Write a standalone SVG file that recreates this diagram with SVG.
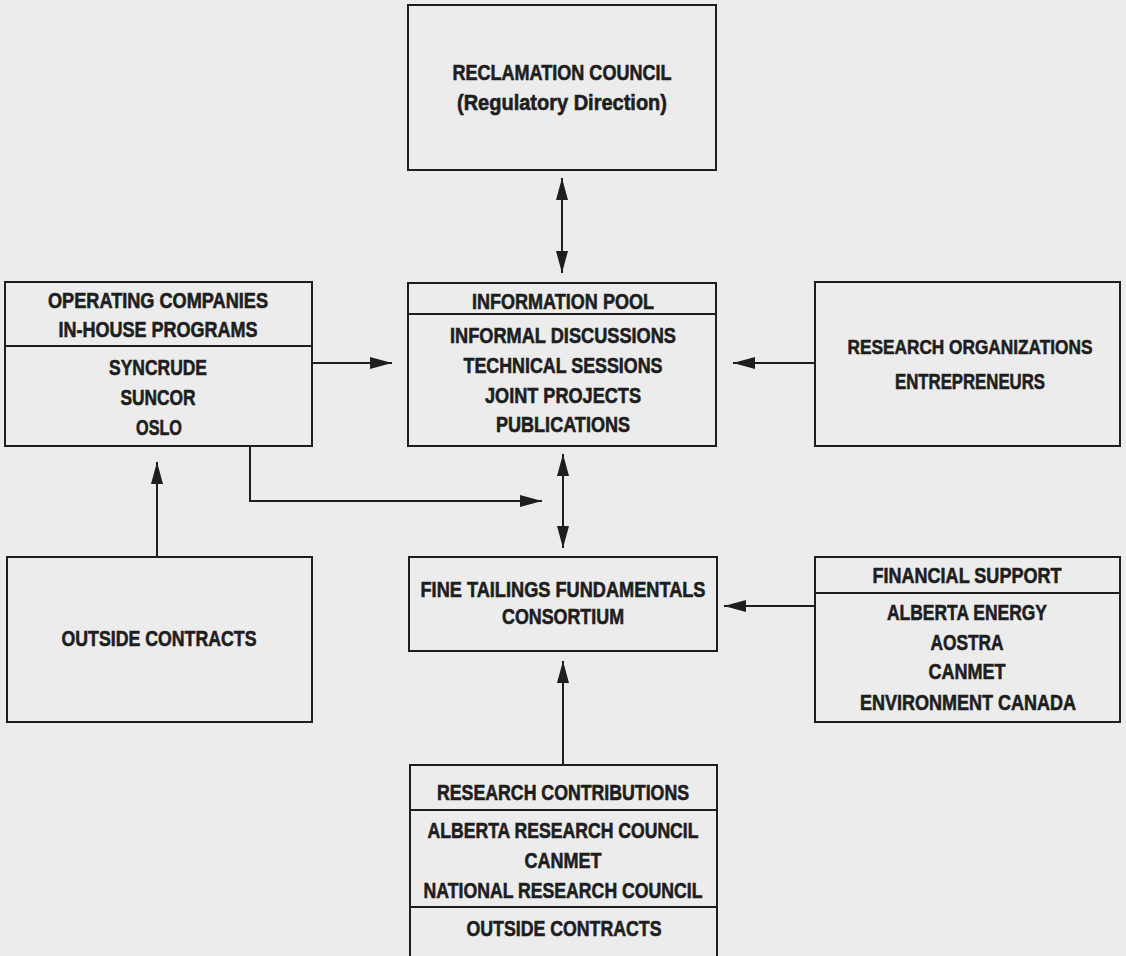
<svg xmlns="http://www.w3.org/2000/svg" width="1126" height="956" viewBox="0 0 1126 956">
<style>
.bx{fill:none;stroke:#1e1e1e;stroke-width:2}
.dv{stroke:#1e1e1e;stroke-width:2}
.t{font-family:"Liberation Sans",Arial,sans-serif;font-weight:bold;font-size:22px;fill:#1e1e1e;stroke:#1e1e1e;stroke-width:0.6;text-anchor:middle}
.c{fill:none;stroke:#1e1e1e;stroke-width:2}
</style>
<defs>
<marker id="ah" markerUnits="userSpaceOnUse" markerWidth="22" markerHeight="12" refX="22" refY="6" orient="auto-start-reverse" viewBox="0 0 22 12">
<path d="M0,0 L22,6 L0,12 z" fill="#1e1e1e"/>
</marker>
</defs>
<rect width="1126" height="956" fill="#ececec"/>
<g id="reclamation">
<rect class="bx" x="408" y="5" width="308" height="165"/>
<text class="t" x="562" y="80" textLength="219" lengthAdjust="spacingAndGlyphs">RECLAMATION COUNCIL</text>
<text class="t" x="562" y="110" textLength="210" lengthAdjust="spacingAndGlyphs">(Regulatory Direction)</text>
</g>
<g id="operating">
<rect class="bx" x="5" y="282" width="307" height="164"/>
<line class="dv" x1="5" y1="346" x2="312" y2="346"/>
<text class="t" x="158" y="308" textLength="220" lengthAdjust="spacingAndGlyphs">OPERATING COMPANIES</text>
<text class="t" x="158" y="337" textLength="199" lengthAdjust="spacingAndGlyphs">IN-HOUSE PROGRAMS</text>
<text class="t" x="158" y="375" textLength="98" lengthAdjust="spacingAndGlyphs">SYNCRUDE</text>
<text class="t" x="158" y="405" textLength="75" lengthAdjust="spacingAndGlyphs">SUNCOR</text>
<text class="t" x="159" y="435" textLength="46" lengthAdjust="spacingAndGlyphs">OSLO</text>
</g>
<g id="infopool">
<rect class="bx" x="408" y="283" width="308" height="163"/>
<line class="dv" x1="408" y1="314" x2="716" y2="314"/>
<text class="t" x="563" y="309" textLength="182" lengthAdjust="spacingAndGlyphs">INFORMATION POOL</text>
<text class="t" x="563" y="343" textLength="226" lengthAdjust="spacingAndGlyphs">INFORMAL DISCUSSIONS</text>
<text class="t" x="563" y="373" textLength="199" lengthAdjust="spacingAndGlyphs">TECHNICAL SESSIONS</text>
<text class="t" x="563" y="403" textLength="156" lengthAdjust="spacingAndGlyphs">JOINT PROJECTS</text>
<text class="t" x="563" y="432" textLength="134" lengthAdjust="spacingAndGlyphs">PUBLICATIONS</text>
</g>
<g id="researchorgs">
<rect class="bx" x="815" y="282" width="305" height="164"/>
<text class="t" x="970" y="354" font-size="20" textLength="245" lengthAdjust="spacingAndGlyphs" style="font-size:21px">RESEARCH ORGANIZATIONS</text>
<text class="t" x="970" y="389" textLength="150" lengthAdjust="spacingAndGlyphs">ENTREPRENEURS</text>
</g>
<g id="outside">
<rect class="bx" x="7" y="557" width="305" height="165"/>
<text class="t" x="159" y="646" textLength="195" lengthAdjust="spacingAndGlyphs">OUTSIDE CONTRACTS</text>
</g>
<g id="consortium">
<rect class="bx" x="409" y="557" width="308" height="94"/>
<text class="t" x="563" y="597" textLength="285" lengthAdjust="spacingAndGlyphs">FINE TAILINGS FUNDAMENTALS</text>
<text class="t" x="563" y="624" textLength="122" lengthAdjust="spacingAndGlyphs">CONSORTIUM</text>
</g>
<g id="financial">
<rect class="bx" x="815" y="557" width="305" height="165"/>
<line class="dv" x1="815" y1="593" x2="1120" y2="593"/>
<text class="t" x="967" y="583" textLength="189" lengthAdjust="spacingAndGlyphs">FINANCIAL SUPPORT</text>
<text class="t" x="967" y="620" textLength="160" lengthAdjust="spacingAndGlyphs">ALBERTA ENERGY</text>
<text class="t" x="967" y="650" textLength="73" lengthAdjust="spacingAndGlyphs">AOSTRA</text>
<text class="t" x="967" y="679" textLength="77" lengthAdjust="spacingAndGlyphs">CANMET</text>
<text class="t" x="968" y="710" textLength="216" lengthAdjust="spacingAndGlyphs">ENVIRONMENT CANADA</text>
</g>
<g id="contributions">
<rect class="bx" x="410" y="765" width="307" height="200"/>
<line class="dv" x1="410" y1="810" x2="717" y2="810"/>
<line class="dv" x1="410" y1="907" x2="717" y2="907"/>
<text class="t" x="563" y="800" textLength="252" lengthAdjust="spacingAndGlyphs">RESEARCH CONTRIBUTIONS</text>
<text class="t" x="563" y="838" textLength="271" lengthAdjust="spacingAndGlyphs">ALBERTA RESEARCH COUNCIL</text>
<text class="t" x="563" y="868" textLength="77" lengthAdjust="spacingAndGlyphs">CANMET</text>
<text class="t" x="563" y="898" textLength="279" lengthAdjust="spacingAndGlyphs">NATIONAL RESEARCH COUNCIL</text>
<text class="t" x="564" y="936" textLength="195" lengthAdjust="spacingAndGlyphs">OUTSIDE CONTRACTS</text>
</g>
<g id="connectors">
<line class="c" x1="562" y1="178" x2="562" y2="273" marker-start="url(#ah)" marker-end="url(#ah)"/>
<line class="c" x1="312" y1="363" x2="392" y2="363" marker-end="url(#ah)"/>
<line class="c" x1="815" y1="363" x2="733" y2="363" marker-end="url(#ah)"/>
<path class="c" d="M250,446 V501 H542" marker-end="url(#ah)"/>
<line class="c" x1="157" y1="557" x2="157" y2="462" marker-end="url(#ah)"/>
<line class="c" x1="563" y1="454" x2="563" y2="548" marker-start="url(#ah)" marker-end="url(#ah)"/>
<line class="c" x1="815" y1="606" x2="724" y2="606" marker-end="url(#ah)"/>
<line class="c" x1="563" y1="765" x2="563" y2="661" marker-end="url(#ah)"/>
</g>
</svg>
